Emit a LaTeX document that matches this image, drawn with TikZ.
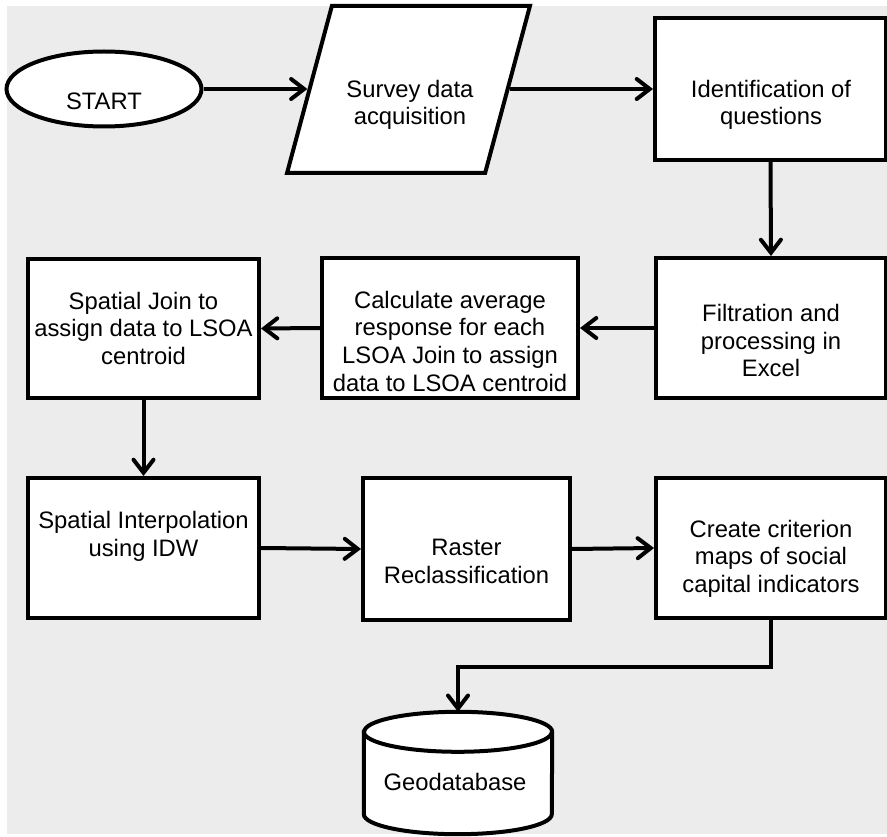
\documentclass[tikz,border=0pt]{standalone}
\usepackage{fontspec}
\setmainfont{Liberation Sans}
\usetikzlibrary{arrows.meta,shapes.geometric}
\definecolor{bg}{HTML}{ECECEC}
\tikzset{
  box/.style={draw, line width=4pt, fill=white, inner sep=0pt, rectangle},
  txt/.style={align=center, inner sep=0pt, anchor=base, font=\fontsize{23.8pt}{27.5pt}\selectfont},
  arr/.style={line width=4pt, -{Straight Barb[length=13pt,width=20pt,line cap=round]}},
  line/.style={line width=4pt}
}
\begin{document}
\begin{tikzpicture}[x=1pt,y=-1pt]
\useasboundingbox (0,0) rectangle (887,837);
\fill[bg] (7,6) rectangle (887,834);
% shapes
\node[draw, line width=4pt, fill=white, ellipse, minimum width=195pt, minimum height=75pt, inner sep=0pt] (start) at (104,89) {};
\node[draw, line width=4pt, fill=white, trapezium, trapezium left angle=74, trapezium right angle=106, trapezium stretches=true, minimum width=243pt, minimum height=167pt, inner sep=2pt] (survey) at (408.5,89.5) {\phantom{X}};
\node[box, minimum width=231pt, minimum height=142pt] (ident) at (770.5,89) {};
\node[box, minimum width=230pt, minimum height=140pt] (filt) at (771,328) {};
\node[box, minimum width=256pt, minimum height=140pt] (calc) at (450,328) {};
\node[box, minimum width=231pt, minimum height=139pt] (sj) at (143.5,328.5) {};
\node[box, minimum width=231pt, minimum height=140pt] (interp) at (143.5,548) {};
\node[box, minimum width=207pt, minimum height=142pt] (raster) at (466.5,549) {};
\node[box, minimum width=230pt, minimum height=140pt] (crit) at (771,548) {};
% geodatabase cylinder
\node[inner sep=0pt, minimum width=188pt, minimum height=122pt] (geo) at (458,773) {};
\draw[line, fill=white] ([yshift=-20pt]geo.north west) -- ([yshift=20pt]geo.south west)
  arc[start angle=180, end angle=360, x radius=94pt, y radius=20pt]
  -- ([yshift=-20pt]geo.north east)
  arc[start angle=0, end angle=180, x radius=94pt, y radius=20pt] -- cycle;
\draw[line] ([yshift=-20pt]geo.north west) arc[start angle=180, end angle=360, x radius=94pt, y radius=20pt];
% texts
\node[txt] (t-start) at (104,110) {START};
\node[txt] (t-survey) at (410,125) {Survey data\\acquisition};
\node[txt] (t-ident) at (771,125) {Identification of\\questions};
\node[txt] (t-filt) at (771,377) {Filtration and\\processing in\\Excel};
\node[txt] (t-calc) at (450,391) {Calculate average\\response for each\\LSOA Join to assign\\data to LSOA centroid};
\node[txt] (t-sj) at (143.5,364) {Spatial Join to\\assign data to LSOA\\centroid};
\node[txt] (t-interp) at (143.5,556) {Spatial Interpolation\\using IDW};
\node[txt] (t-raster) at (466.5,583) {Raster\\Reclassification};
\node[txt] (t-crit) at (771,592) {Create criterion\\maps of social\\capital indicators};
\node[txt] (t-geo) at (455,790) {Geodatabase};
% connectors
\draw[arr] (start.east) -- (start.east -| survey.west);
\draw[arr] (ident.west -| survey.east) -- (ident.west);
\draw[arr] (ident.south) -- (filt.north);
\draw[arr] (filt.west) -- (calc.east);
\draw[arr] (calc.west) -- (sj.east);
\draw[arr] (sj.south) -- (interp.north);
\draw[arr] (interp.east) -- (raster.west);
\draw[arr] (raster.east) -- (crit.west);
\draw[arr] (crit.south) -- ++(0,47) -| (geo.north);
\end{tikzpicture}
\end{document}
